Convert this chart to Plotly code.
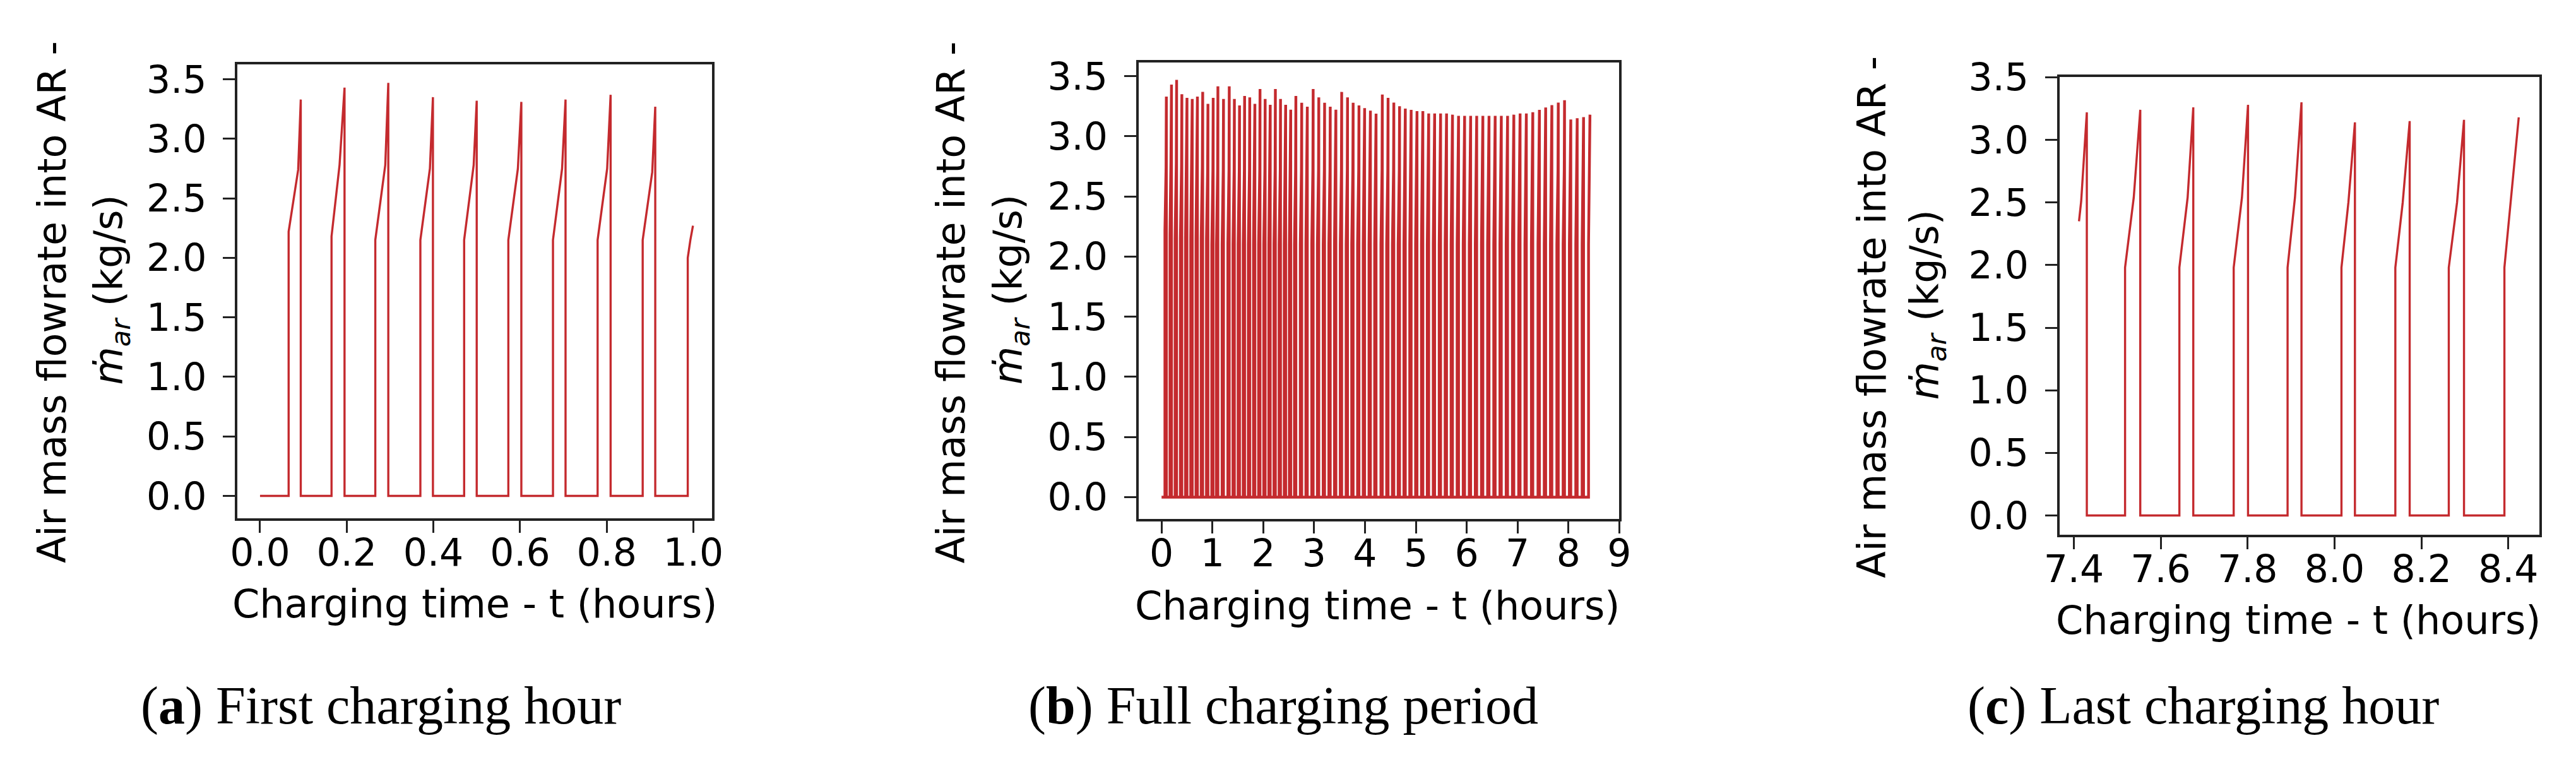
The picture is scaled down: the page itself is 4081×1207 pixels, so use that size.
import plotly.graph_objects as go

W, H = 4081, 1207
PAGE_PAD = 8          # default body margin of the written page
FW, FH = W - 2 * PAGE_PAD, H - 2 * PAGE_PAD

# ---- panel (a): first charging hour, one entry per cycle ----
a_on = [0.066, 0.165, 0.266, 0.370, 0.471, 0.573, 0.676, 0.779, 0.883, 0.987]
a_knee = [2.22, 2.18, 2.15, 2.15, 2.15, 2.15, 2.15, 2.15, 2.15, 2.00]
a_mid_t = [0.088, 0.1835, 0.289, 0.392, 0.493, 0.595, 0.697, 0.801, 0.905, 0.993]
a_mid_v = [2.74, 2.78, 2.78, 2.75, 2.78, 2.75, 2.75, 2.75, 2.72, 2.15]
a_peak_t = [0.094, 0.195, 0.296, 0.399, 0.500, 0.603, 0.705, 0.809, 0.912, 0.999]
a_peak_v = [3.33, 3.43, 3.47, 3.35, 3.32, 3.31, 3.33, 3.37, 3.27, 2.27]

# ---- panel (c): last charging hour ----
c_start = (7.412, 2.35)
c_on = [None, 7.518, 7.643, 7.768, 7.892, 8.016, 8.140, 8.263, 8.391]
c_knee = [None, 1.98, 1.98, 1.98, 1.98, 1.98, 1.98, 1.98, 1.98]
c_mid_t = [7.417, 7.538, 7.662, 7.787, 7.909, 8.032, 8.157, 8.282, 8.406]
c_mid_v = [2.51, 2.54, 2.54, 2.54, 2.54, 2.50, 2.50, 2.50, 2.52]
c_peak_t = [7.430, 7.553, 7.675, 7.801, 7.924, 8.047, 8.173, 8.298, 8.424]
c_peak_v = [3.22, 3.24, 3.26, 3.28, 3.30, 3.14, 3.15, 3.16, 3.18]

# ---- panel (b): peaks of the cycles between the first 9 and the last 9 ----
b_peak_t = [1.015, 1.108, 1.218, 1.331, 1.432, 1.533, 1.633, 1.734, 1.835, 1.936,
            2.037, 2.137, 2.238, 2.339, 2.440, 2.540, 2.641, 2.756, 2.866, 2.981,
            3.092, 3.206, 3.317, 3.428, 3.542, 3.657, 3.767, 3.882, 3.993, 4.107,
            4.218, 4.341,
            4.454, 4.567, 4.680, 4.793, 4.908, 5.023, 5.138, 5.253, 5.370, 5.487,
            5.604, 5.721, 5.840, 5.959, 6.078, 6.197, 6.318, 6.439, 6.560, 6.681,
            6.804, 6.927, 7.050, 7.173, 7.300]
b_peak_v = [3.32, 3.415, 3.31, 3.415, 3.31, 3.257, 3.336, 3.324, 3.27, 3.393,
            3.311, 3.262, 3.393, 3.311, 3.262, 3.221, 3.336, 3.279, 3.246, 3.393,
            3.324, 3.279, 3.246, 3.221, 3.369, 3.324, 3.279, 3.257, 3.234, 3.213,
            3.188, 3.347,
            3.32, 3.28, 3.25, 3.23, 3.22, 3.21, 3.21, 3.19, 3.19, 3.19,
            3.19, 3.18, 3.17, 3.17, 3.17, 3.17, 3.17, 3.17, 3.17, 3.17,
            3.17, 3.18, 3.19, 3.19, 3.20]
b_on_dur = 0.028   # valve-open time before each peak (h)
b_mid_dt = 0.006
b_knee_v = 2.10
b_mid_v = 2.72

RED = "#c42a2e"
AX = "#222222"


def build(start, on, knee, mid_t, mid_v, peak_t, peak_v, close_last=False):
    xs, ys = [start[0]], [start[1]]
    n = len(peak_t)
    for i in range(n):
        if on[i] is not None:
            xs += [on[i], on[i]]
            ys += [0.0, knee[i]]
        xs += [mid_t[i], peak_t[i]]
        ys += [mid_v[i], peak_v[i]]
        if i < n - 1 or close_last:
            xs.append(peak_t[i])
            ys.append(0.0)
    return xs, ys


ax_, ay_ = build((0.0, 0.0), a_on, a_knee, a_mid_t, a_mid_v, a_peak_t, a_peak_v)
cx_, cy_ = build(c_start, c_on, c_knee, c_mid_t, c_mid_v, c_peak_t, c_peak_v)

# full period: first 9 cycles of (a), generic cycles, then the cycles of (c)
bx_, by_ = build((0.0, 0.0), a_on[:9], a_knee[:9], a_mid_t[:9], a_mid_v[:9],
                 a_peak_t[:9], a_peak_v[:9], close_last=True)
pt = b_peak_t + c_peak_t
pv = b_peak_v + c_peak_v
gx, gy = build((pt[0] - b_on_dur, 0.0),
               [t - b_on_dur for t in pt], [b_knee_v] * len(pt),
               [t - b_mid_dt for t in pt], [b_mid_v] * len(pt), pt, pv)
bx_ += gx
by_ += gy

fig = go.Figure()
fig.add_trace(go.Scatter(x=ax_, y=ay_, mode="lines", line=dict(color=RED, width=3.4),
                         xaxis="x", yaxis="y"))
fig.add_trace(go.Scatter(x=bx_, y=by_, mode="lines", line=dict(color=RED, width=4.4),
                         xaxis="x2", yaxis="y2"))
fig.add_trace(go.Scatter(x=cx_, y=cy_, mode="lines", line=dict(color=RED, width=3.4),
                         xaxis="x3", yaxis="y3"))


def px(x):
    return (x - PAGE_PAD) / FW


def py(y):
    return 1 - (y - PAGE_PAD) / FH


tickfont = dict(family="DejaVu Sans", size=60, color="black")
common = dict(showline=True, linecolor=AX, linewidth=3.5, mirror=True,
              ticks="outside", ticklen=19, tickwidth=3, tickcolor=AX,
              showgrid=False, zeroline=False, tickfont=tickfont)

# panel boxes in pixels: left, right, top, bottom
boxes = [(355, 1115, 69, 812), (1798, 2568, 66, 813), (3273, 4042, 90, 839)]
xranges = [[-0.052, 1.043], [-0.454, 9.0], [7.367, 8.472]]
yranges = [[-0.19, 3.625], [-0.183, 3.613], [-0.156, 3.5]]
xticks = [[0.0, 0.2, 0.4, 0.6, 0.8, 1.0], list(range(10)),
          [7.4, 7.6, 7.8, 8.0, 8.2, 8.4]]
xfmt = [".1f", "d", ".1f"]
yticks = [0.0, 0.5, 1.0, 1.5, 2.0, 2.5, 3.0, 3.5]

layout = dict(width=FW, height=FH, margin=dict(l=0, r=0, t=0, b=0),
              paper_bgcolor="white", plot_bgcolor="white", showlegend=False)
for i, (l, r, t, b) in enumerate(boxes):
    sfx = "" if i == 0 else str(i + 1)
    layout["xaxis" + sfx] = dict(common, domain=[px(l), px(r)], range=xranges[i],
                                 tickvals=xticks[i], tickformat=xfmt[i],
                                 anchor="y" + sfx, ticklabelstandoff=-20)
    layout["yaxis" + sfx] = dict(common, domain=[py(b), py(t)], range=yranges[i],
                                 tickvals=yticks, tickformat=".1f",
                                 anchor="x" + sfx, ticklabelstandoff=14)
fig.update_layout(**layout)

titlefont = dict(family="DejaVu Sans", size=62, color="black")
capfont = dict(family="Liberation Serif", size=84, color="black")

xtitle_pos = [(735, 952), (2181, 955), (3656, 978)]
ytitle1_pos = [(58, 458), (1498, 458), (2973, 482)]
ytitle2_pos = [(152, 438), (1592, 437), (3061, 462)]
captions = ["(<b>a</b>) First charging hour", "(<b>b</b>) Full charging period",
            "(<b>c</b>) Last charging hour"]
caption_pos = [(585, 1118), (2030, 1118), (3503, 1118)]

for i in range(3):
    fig.add_annotation(x=px(xtitle_pos[i][0]), y=py(xtitle_pos[i][1]),
                       xref="paper", yref="paper", showarrow=False,
                       text="Charging time - t (hours)", font=titlefont,
                       xanchor="center", yanchor="middle")
    fig.add_annotation(x=px(ytitle1_pos[i][0]), y=py(ytitle1_pos[i][1]),
                       xref="paper", yref="paper", showarrow=False,
                       text="Air mass flowrate into AR -", font=titlefont,
                       textangle=-90, xanchor="center", yanchor="middle")
    fig.add_annotation(x=px(ytitle2_pos[i][0]), y=py(ytitle2_pos[i][1]),
                       xref="paper", yref="paper", showarrow=False,
                       text="<i>ṁ</i><sub><i>ar</i></sub> (kg/s)", font=titlefont,
                       textangle=-90, xanchor="center", yanchor="middle")
    fig.add_annotation(x=px(caption_pos[i][0]), y=py(caption_pos[i][1]),
                       xref="paper", yref="paper", showarrow=False,
                       text=captions[i], font=capfont,
                       xanchor="center", yanchor="middle")

fig.write_html("out.html")
